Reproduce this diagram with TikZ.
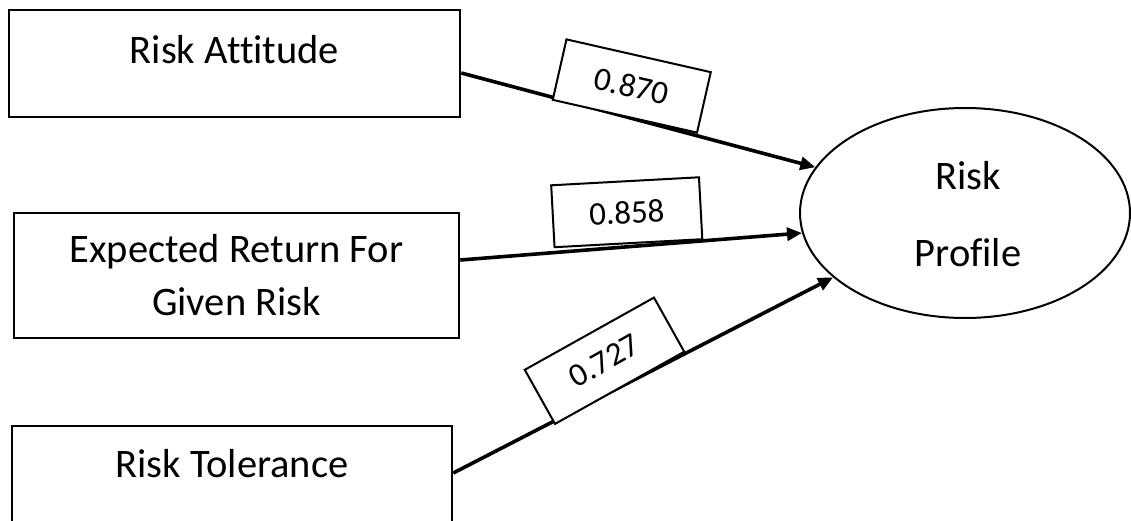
\documentclass[tikz,border=0pt]{standalone}
\usepackage{fontspec}
\setmainfont{Carlito}[Ligatures=NoCommon]
\usetikzlibrary{arrows.meta,shapes.geometric}
\begin{document}
\begin{tikzpicture}[x=1pt,y=-1pt,
  box/.style={draw, line width=2.6pt, rectangle, inner sep=0pt},
  txt/.style={font=\fontsize{40.5}{53}\selectfont, anchor=base, inner sep=0pt},
  coef/.style={draw, fill=white, line width=2pt, minimum width=148pt, minimum height=62pt, inner sep=0pt, font=\fontsize{33}{40}\selectfont},
  link/.style={line width=3.6pt, -{Triangle[length=15pt,width=13pt]}}]
\useasboundingbox (0,0) rectangle (1131,521);
% boxes
\node[box, minimum width=451pt, minimum height=107pt] (b1) at (234.5,63.5) {};
\node[box, minimum width=445pt, minimum height=125pt] (b2) at (236.5,275.5) {};
\node[box, minimum width=440pt, minimum height=96pt] (b3) at (232,474) {};
\node[draw, ellipse, line width=2pt, minimum width=330pt, minimum height=210pt, inner sep=0pt] (rp) at (965,213) {};
% texts
\node[txt] (t1) at (234.5,64) {Risk Attitude};
\node[txt, align=center] (t2) at (236.5,315) {Expected Return For\\Given Risk};
\node[txt] (t3) at (232,477) {Risk Tolerance};
\node[txt, align=center, font=\fontsize{40.5}{77}\selectfont] (t4) at (968,266) {Risk\\Profile};
% connectors
\draw[link] ([yshift=-9.5pt]b1.east) -- (rp.163);
\draw[link] ([yshift=15.5pt]b2.east) -- (rp.187);
\draw[link] ([yshift=1pt]b3.east) -- (rp.206);
% coefficients
\node[coef, rotate=-12.8] (c1) at (631.75,86) {0.870};
\node[coef, rotate=3.1] (c2) at (626.75,212.25) {0.858};
\node[coef, rotate=29.2] (c3) at (604.5,360.75) {0.727};
\end{tikzpicture}
\end{document}
